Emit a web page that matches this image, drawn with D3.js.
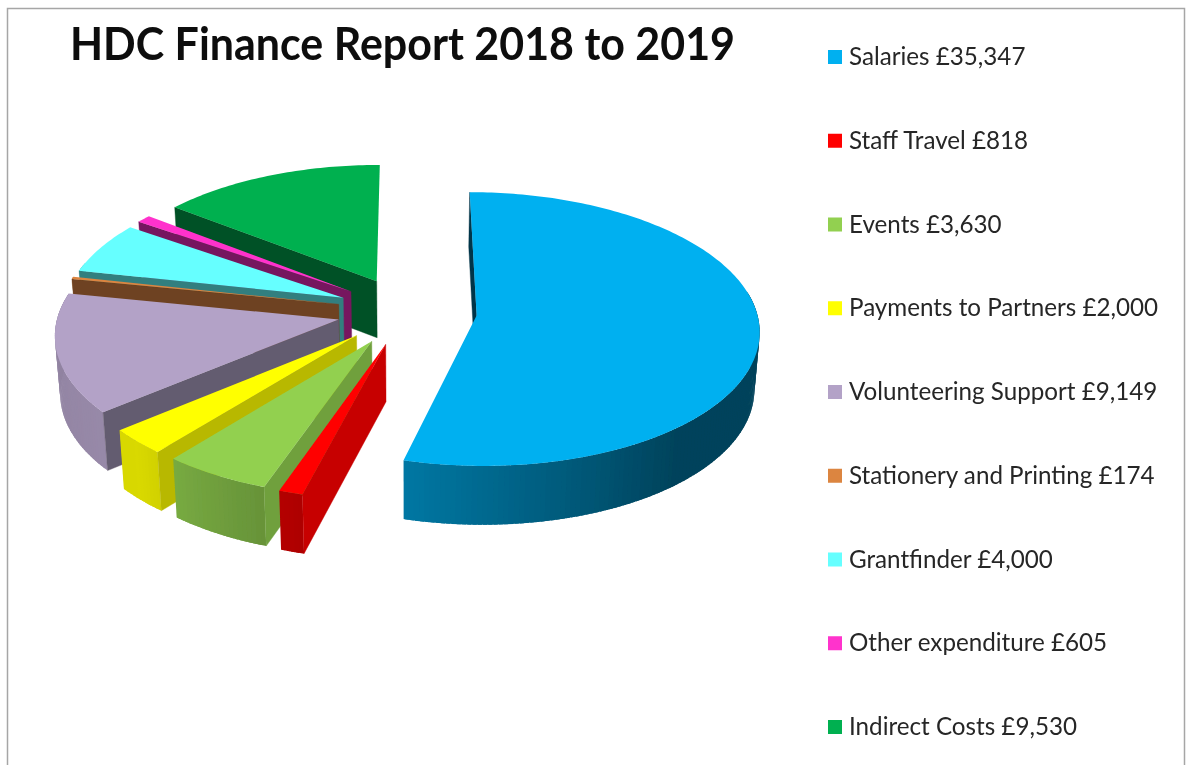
<!DOCTYPE html>
<html>
<head>
<meta charset="utf-8">
<script src="https://cdn.jsdelivr.net/npm/d3@7"></script>
<style>
html,body{margin:0;padding:0;background:#fff;}
svg{display:block;}
text{font-family:Lato,"Open Sans",sans-serif;}
</style>
</head>
<body>
<svg id="chart" width="1186" height="765"></svg>
<script>
const titleText = "HDC Finance Report 2018 to 2019";
const categories = ["Salaries","Staff Travel","Events","Payments to Partners","Volunteering Support","Stationery and Printing","Grantfinder","Other expenditure","Indirect Costs"];
const values = [35347,818,3630,2000,9149,174,4000,605,9530];
const colours = ["#00b0f0","#ff0000","#92d050","#ffff00","#b3a2c7","#dc8540","#66ffff","#ff33cc","#00b050"];

const W = 1186, H = 765;
const svg = d3.select("#chart");

/* 3D projection parameters */
const CX = 407, CY = 311, RX = 280, RY = 136;
const EXPLODE = 0.25, PERSP = 0.1, SHRINK = 0.985;
const x = d3.scaleLinear().domain([-1,1]).range([CX-RX,CX+RX]);
const y = d3.scaleLinear().domain([-1,1]).range([CY-RY,CY+RY]);
const project = ([X,Y]) => { const w = 1+PERSP*Y; return [x(X*w), y(Y*w)]; };
const depthAt = Y => 57+4*Y;
const lower = ([X,Y]) => {
  const [sx,sy] = project([X,Y]);
  return [CX+(sx-CX)*SHRINK, CY+(sy-CY)*SHRINK+depthAt(Y)];
};
const poly = d3.line().curve(d3.curveLinearClosed);

/* shading of side walls, by direction in degrees */
const rimShade = d3.scaleLinear().domain([90,140,195,225,280]).range([.38,.38,.68,.85,.8]).clamp(true);
const wallShade = d3.scaleLinear().domain([0,195,220,230,280,305]).range([.3,.78,.72,.56,.5,.46]).clamp(true);
const shade = (c,f) => { const r = d3.rgb(c); return d3.rgb(r.r*f,r.g*f,r.b*f).formatHex(); };

const pie = d3.pie().sort(null).value(d=>d.value);
const arcs = pie(categories.map((name,i)=>({name,value:values[i],colour:colours[i]})));
const deg = a => a*180/Math.PI;

const slices = arcs.map(a=>{
  const mid = (a.startAngle+a.endAngle)/2;
  const ox = Math.sin(mid)*EXPLODE, oy = -Math.cos(mid)*EXPLODE;
  return {...a, mid, ox, oy};
}).sort((p,q)=>p.oy-q.oy);

const defs = svg.append("defs");
defs.append("filter").attr("id","soft").attr("x","-5%").attr("y","-5%").attr("width","110%").attr("height","110%")
  .append("feGaussianBlur").attr("stdDeviation",0.6);
defs.append("filter").attr("id","softText").attr("x","-5%").attr("y","-20%").attr("width","110%").attr("height","140%")
  .append("feGaussianBlur").attr("stdDeviation",0.45);
const pieG = svg.append("g").attr("filter","url(#soft)");

slices.forEach(s=>{
  const g = pieG.append("g");
  const colour = s.data.colour;
  const rimAt = a => [s.ox+Math.sin(a), s.oy-Math.cos(a)];
  const apex = [s.ox,s.oy];
  const steps = Math.max(2,Math.ceil(deg(s.endAngle-s.startAngle)));
  const step = (s.endAngle-s.startAngle)/steps;
  const angles = d3.range(steps+1).map(i=>s.startAngle+step*i);

  /* outer rim wall, front-facing part only; each strip overlaps the next so no seams show */
  d3.pairs(angles).forEach(([a0,a1],i)=>{
    const m = deg((a0+a1)/2);
    if (m<80 || m>285) return;
    const a2 = i<steps-1 ? a1+step*0.8 : a1;
    g.append("path")
      .attr("d",poly([project(rimAt(a0)),project(rimAt(a2)),lower(rimAt(a2)),lower(rimAt(a0))]))
      .attr("fill",shade(colour,rimShade(m)));
  });

  /* radial wall at the start edge */
  const startRim = rimAt(s.startAngle);
  const wf = shade(colour,wallShade(deg(s.startAngle)));
  g.append("path")
    .attr("d",poly([project(apex),project(startRim),lower(startRim),lower(apex)]))
    .attr("fill",wf).attr("stroke",wf).attr("stroke-width",0.4);

  /* top face */
  g.append("path")
    .attr("d",poly([project(apex),...angles.map(a=>project(rimAt(a)))]))
    .attr("fill",colour);
});

/* frame */
svg.append("path").attr("d",d3.line()([[7.5,H],[7.5,8.5],[1184.5,8.5],[1184.5,H]]))
  .attr("fill","none").attr("stroke","#a6a6a6").attr("stroke-width",1.5);

/* title */
svg.append("text").attr("x",70).attr("y",60).attr("font-size",46).attr("font-weight",700)
  .attr("textLength",665).attr("lengthAdjust","spacingAndGlyphs")
  .attr("filter","url(#softText)")
  .attr("fill","#0a0a0a").text(titleText);

/* legend */
const legendY = d3.scalePoint().domain(categories).range([57,727]);
const legend = svg.append("g").selectAll("g").data(categories.map((c,i)=>({c,v:values[i],k:colours[i]})))
  .join("g").attr("transform",d=>`translate(828,${legendY(d.c)})`);
legend.append("rect").attr("x",0).attr("y",-7).attr("width",14).attr("height",14).attr("fill",d=>d.k);
legend.append("text").attr("x",21).attr("y",8).attr("font-size",24.2).attr("fill","#262626")
  .attr("filter","url(#softText)")
  .text(d=>`${d.c} £${d3.format(",")(d.v)}`);
</script>
</body>
</html>
